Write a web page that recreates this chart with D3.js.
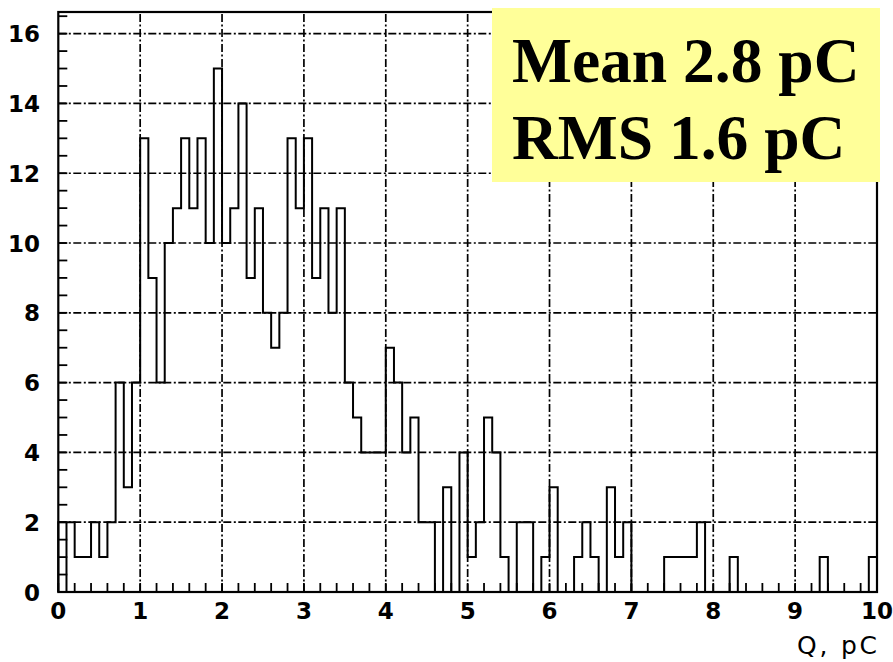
<!DOCTYPE html>
<html>
<head>
<meta charset="utf-8">
<script src="https://cdn.jsdelivr.net/npm/d3@7"></script>
<style>
  body { margin: 0; background: #fff; }
  svg { display: block; }
  .tick-label { font-family: "DejaVu Sans", sans-serif; font-weight: bold; font-size: 23px; fill: #000; }
</style>
</head>
<body>
<div id="chart"></div>
<script>
// Histogram of charge, 100 bins of 0.1 pC from 0 to 10 pC
var counts = [
  2, 2, 1, 1, 2, 1, 2, 6, 3, 6,
  13, 9, 6, 10, 11, 13, 11, 13, 10, 15,
  10, 11, 14, 9, 11, 8, 7, 8, 13, 11,
  13, 9, 11, 8, 11, 6, 5, 4, 4, 4,
  7, 6, 4, 5, 2, 2, 0, 3, 0, 4,
  1, 2, 5, 4, 1, 0, 2, 2, 0, 1,
  3, 0, 0, 1, 2, 1, 0, 3, 1, 2,
  0, 0, 0, 0, 1, 1, 1, 1, 2, 0,
  0, 0, 1, 0, 0, 0, 0, 0, 0, 0,
  0, 0, 0, 1, 0, 0, 0, 0, 0, 1
];
var binLow = 0, binWidth = 0.1;
var xTicks = [0, 1, 2, 3, 4, 5, 6, 7, 8, 9, 10];
var yTicks = [0, 2, 4, 6, 8, 10, 12, 14, 16];
var xTitle = "Q, pC";
var statLines = ["Mean 2.8 pC", "RMS 1.6 pC"];

var visualize = function() {
  var W = 893, H = 662;
  var svg = d3.select("#chart")
    .append("svg")
    .attr("width", W)
    .attr("height", H);

  // Scales
  var xScale = d3.scaleLinear().domain([0, 10]).range([58.3, 877]);
  var yScale = d3.scaleLinear().domain([0, 16.62]).range([592, 12]);

  // Grid (dash-dot)
  svg.append("g").selectAll("line")
    .data(xTicks.slice(1, -1))
    .enter().append("line")
    .attr("x1", function(d) { return xScale(d); })
    .attr("x2", function(d) { return xScale(d); })
    .attr("y1", yScale(0))
    .attr("y2", yScale.range()[1])
    .attr("stroke", "#000")
    .attr("stroke-width", 1.7)
    .attr("stroke-dasharray", "8,2.5,2,2.5");
  svg.append("g").selectAll("line")
    .data(yTicks.slice(1))
    .enter().append("line")
    .attr("x1", xScale(0))
    .attr("x2", xScale(10))
    .attr("y1", function(d) { return yScale(d); })
    .attr("y2", function(d) { return yScale(d); })
    .attr("stroke", "#000")
    .attr("stroke-width", 1.7)
    .attr("stroke-dasharray", "8,2.5,2,2.5");

  // Minor ticks, pointing inward
  var yMinor = d3.range(0, 16.6, 0.5);
  svg.append("g").selectAll("line")
    .data(yMinor)
    .enter().append("line")
    .attr("x1", xScale(0))
    .attr("x2", xScale(0) + 9)
    .attr("y1", function(d) { return yScale(d); })
    .attr("y2", function(d) { return yScale(d); })
    .attr("stroke", "#000")
    .attr("stroke-width", 1.8);
  var xMinor = d3.range(0, 10.01, 0.2);
  svg.append("g").selectAll("line")
    .data(xMinor)
    .enter().append("line")
    .attr("x1", function(d) { return xScale(d); })
    .attr("x2", function(d) { return xScale(d); })
    .attr("y1", yScale(0))
    .attr("y2", yScale(0) - 9)
    .attr("stroke", "#000")
    .attr("stroke-width", 1.8);

  // Histogram outline
  var pts = [[binLow, 0]];
  counts.forEach(function(c, i) { pts.push([binLow + i * binWidth, c]); });
  pts.push([binLow + counts.length * binWidth, counts[counts.length - 1]]);
  pts.push([binLow + counts.length * binWidth, 0]);
  var line = d3.line()
    .x(function(d) { return xScale(d[0]); })
    .y(function(d) { return yScale(d[1]); })
    .curve(d3.curveStepAfter);
  svg.append("path")
    .attr("d", line(pts))
    .attr("fill", "none")
    .attr("stroke", "#000")
    .attr("stroke-width", 2);
  // edge of the first bin drawn down to the axis
  svg.append("line")
    .attr("x1", xScale(binLow + binWidth))
    .attr("x2", xScale(binLow + binWidth))
    .attr("y1", yScale(0))
    .attr("y2", yScale(counts[0]))
    .attr("stroke", "#000")
    .attr("stroke-width", 2);

  // Frame
  svg.append("rect")
    .attr("x", xScale(0))
    .attr("y", yScale.range()[1])
    .attr("width", xScale(10) - xScale(0))
    .attr("height", yScale(0) - yScale.range()[1])
    .attr("fill", "none")
    .attr("stroke", "#000")
    .attr("stroke-width", 2.2);

  // Tick labels
  svg.append("g").selectAll("text")
    .data(yTicks)
    .enter().append("text")
    .attr("class", "tick-label")
    .attr("x", 40)
    .attr("y", function(d) { return yScale(d) + 8.5; })
    .attr("text-anchor", "end")
    .text(function(d) { return d; });
  svg.append("g").selectAll("text")
    .data(xTicks)
    .enter().append("text")
    .attr("class", "tick-label")
    .attr("x", function(d) { return xScale(d); })
    .attr("y", 619)
    .attr("text-anchor", "middle")
    .text(function(d) { return d; });

  // Axis title
  svg.append("text")
    .attr("x", 877)
    .attr("y", 654)
    .attr("text-anchor", "end")
    .attr("font-family", "DejaVu Sans, sans-serif")
    .attr("font-size", 25)
    .attr("fill", "#000")
    .attr("textLength", 80)
    .attr("lengthAdjust", "spacing")
    .text(xTitle);

  // Stats box
  svg.append("rect")
    .attr("x", 492)
    .attr("y", 8)
    .attr("width", 388)
    .attr("height", 174)
    .attr("fill", "#ffff99");
  svg.append("g").selectAll("text")
    .data(statLines)
    .enter().append("text")
    .attr("x", 512)
    .attr("y", function(d, i) { return 82 + i * 76.5; })
    .attr("font-family", "Liberation Serif, Times New Roman, serif")
    .attr("font-weight", "bold")
    .attr("font-size", 63.5)
    .attr("fill", "#000")
    .text(function(d) { return d; });
}

visualize();
</script>
</body>
</html>
